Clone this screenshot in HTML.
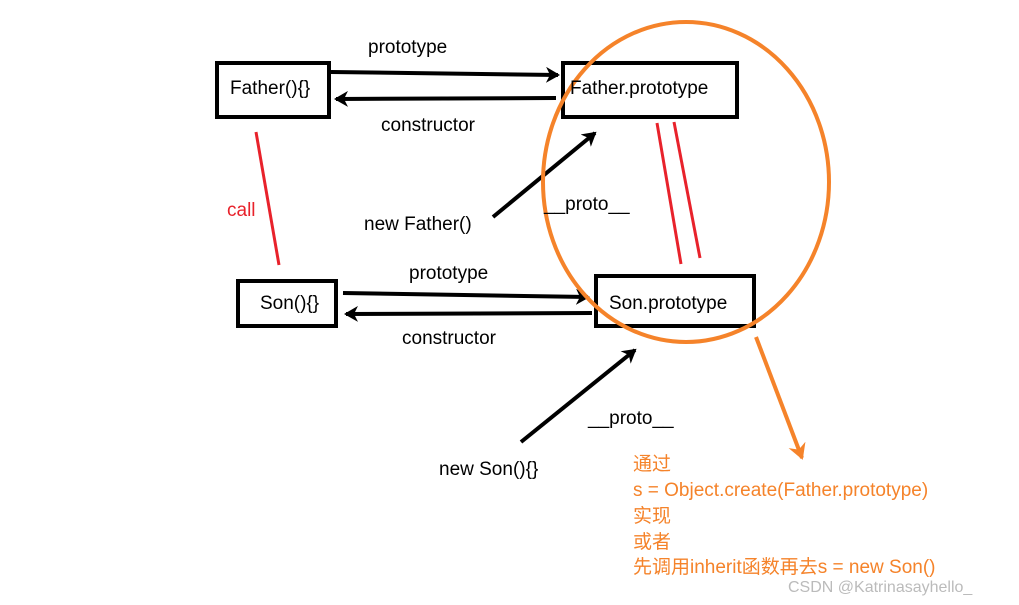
<!DOCTYPE html>
<html><head><style>body{margin:0;background:#fff}svg{display:block}</style></head><body>
<svg width="1019" height="605" xmlns="http://www.w3.org/2000/svg" font-family="Liberation Sans, Noto Sans CJK SC, sans-serif" font-size="19">
<defs>
<marker id="a" markerWidth="10" markerHeight="10" refX="8" refY="5" orient="auto" markerUnits="userSpaceOnUse"><path d="M0,0 L10,5 L0,10 L3,5z" fill="#000"/></marker>
<marker id="b" markerWidth="14" markerHeight="16" refX="12" refY="8" orient="auto" markerUnits="userSpaceOnUse"><path d="M0,0 L14,8 L0,16 L4,8z" fill="#000"/></marker>
<marker id="o" markerWidth="16" markerHeight="18" refX="14" refY="9" orient="auto" markerUnits="userSpaceOnUse"><path d="M0,0 L16,9 L0,18 L5,9z" fill="#f5832a"/></marker>
</defs>
<g fill="none" stroke="#000" stroke-width="4">
<rect x="217" y="63" width="112" height="54"/>
<rect x="563" y="63" width="174" height="54"/>
<rect x="238" y="281" width="98" height="45"/>
<rect x="596" y="276" width="158" height="50"/>
</g>
<g stroke="#000" stroke-width="4">
<line x1="331" y1="72" x2="558" y2="75" marker-end="url(#b)"/>
<line x1="556" y1="98" x2="336" y2="99" marker-end="url(#b)"/>
<line x1="343" y1="293" x2="588" y2="297" marker-end="url(#b)"/>
<line x1="592" y1="313" x2="346" y2="314" marker-end="url(#b)"/>
<line x1="493" y1="217" x2="595" y2="133" marker-end="url(#b)"/>
<line x1="521" y1="442" x2="635" y2="350" marker-end="url(#b)"/>
</g>
<g stroke="#e8222b" stroke-width="3">
<line x1="256" y1="132" x2="279" y2="265"/>
<line x1="657" y1="123" x2="681" y2="264"/>
<line x1="674" y1="122" x2="700" y2="258"/>
</g>
<ellipse cx="686" cy="182" rx="143" ry="160" fill="none" stroke="#f5832a" stroke-width="4"/>
<line x1="756" y1="337" x2="802" y2="458" stroke="#f5832a" stroke-width="4" marker-end="url(#o)"/>
<g fill="#000">
<text x="230" y="94">Father(){}</text>
<text x="570" y="94">Father.prototype</text>
<text x="260" y="309">Son(){}</text>
<text x="609" y="309">Son.prototype</text>
<text x="368" y="53">prototype</text>
<text x="381" y="131">constructor</text>
<text x="409" y="279">prototype</text>
<text x="402" y="344">constructor</text>
<text x="364" y="230">new Father()</text>
<text x="544" y="210">__proto__</text>
<text x="588" y="424">__proto__</text>
<text x="439" y="475">new Son(){}</text>
</g>
<text x="227" y="216" fill="#e8222b">call</text>
<g fill="#f5832a">
<text x="633" y="470">通过</text>
<text x="633" y="496">s = Object.create(Father.prototype)</text>
<text x="633" y="522">实现</text>
<text x="633" y="548">或者</text>
<text x="633" y="573">先调用inherit函数再去s = new Son()</text>
</g>
<text x="788" y="592" fill="#bbb" font-size="16">CSDN @Katrinasayhello_</text>
</svg>
</body></html>
